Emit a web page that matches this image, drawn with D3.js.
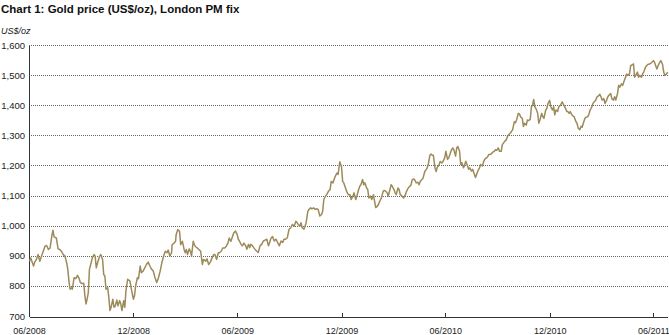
<!DOCTYPE html>
<html>
<head>
<meta charset="utf-8">
<script src="https://cdn.jsdelivr.net/npm/d3@7"></script>
<style>
  html, body { margin: 0; padding: 0; background: #fff; }
  svg { display: block; font-family: "Liberation Sans", Arial, Helvetica, sans-serif; }
</style>
</head>
<body>
<svg id="chart" width="669" height="335"></svg>
<script>
// London PM gold fix, US$/oz
const fixDates = [
  // 2008
  "2008-06-02","2008-06-04","2008-06-09","2008-06-11","2008-06-14","2008-06-17","2008-06-20","2008-06-23","2008-06-26","2008-06-29",
  "2008-07-02","2008-07-05","2008-07-08","2008-07-11","2008-07-13","2008-07-15","2008-07-19","2008-07-22","2008-07-25","2008-07-28","2008-07-31",
  "2008-08-03","2008-08-06","2008-08-08","2008-08-10","2008-08-12","2008-08-15","2008-08-16","2008-08-19","2008-08-22","2008-08-25","2008-08-28","2008-08-30",
  "2008-09-02","2008-09-05","2008-09-07","2008-09-09","2008-09-11","2008-09-13","2008-09-15","2008-09-18","2008-09-20","2008-09-23","2008-09-25","2008-09-27","2008-09-30",
  "2008-10-03","2008-10-05","2008-10-08","2008-10-10","2008-10-12","2008-10-14","2008-10-17","2008-10-19","2008-10-21","2008-10-23","2008-10-26","2008-10-28","2008-10-30",
  "2008-11-02","2008-11-04","2008-11-07","2008-11-09","2008-11-11","2008-11-14","2008-11-16","2008-11-18","2008-11-21","2008-11-25","2008-11-28",
  "2008-12-01","2008-12-03","2008-12-05","2008-12-08","2008-12-10","2008-12-13","2008-12-15","2008-12-18","2008-12-21","2008-12-24","2008-12-27","2008-12-30",
  // 2009
  "2009-01-02","2009-01-05","2009-01-08","2009-01-11","2009-01-14","2009-01-17","2009-01-20","2009-01-23","2009-01-26","2009-01-29","2009-01-31",
  "2009-02-03","2009-02-06","2009-02-07","2009-02-10","2009-02-13","2009-02-14","2009-02-17","2009-02-20","2009-02-22","2009-02-25","2009-02-28",
  "2009-03-02","2009-03-04","2009-03-06","2009-03-09","2009-03-11","2009-03-13","2009-03-16","2009-03-18","2009-03-20","2009-03-23","2009-03-26","2009-03-29",
  "2009-04-01","2009-04-03","2009-04-07","2009-04-09","2009-04-12","2009-04-15","2009-04-18","2009-04-21","2009-04-23","2009-04-26","2009-04-29",
  "2009-05-01","2009-05-04","2009-05-07","2009-05-10","2009-05-13","2009-05-16","2009-05-18","2009-05-21","2009-05-23","2009-05-26","2009-05-29",
  "2009-06-01","2009-06-03","2009-06-05","2009-06-08","2009-06-10","2009-06-13","2009-06-16","2009-06-18","2009-06-21","2009-06-23","2009-06-25","2009-06-28","2009-06-30",
  "2009-07-02","2009-07-05","2009-07-08","2009-07-11","2009-07-14","2009-07-17","2009-07-20","2009-07-23","2009-07-26","2009-07-28","2009-07-30",
  "2009-08-02","2009-08-05","2009-08-08","2009-08-11","2009-08-14","2009-08-17","2009-08-20","2009-08-22","2009-08-25","2009-08-28","2009-08-31",
  "2009-09-03","2009-09-06","2009-09-09","2009-09-12","2009-09-14","2009-09-16","2009-09-19","2009-09-21","2009-09-23","2009-09-26","2009-09-28","2009-09-30",
  "2009-10-03","2009-10-05","2009-10-08","2009-10-10","2009-10-13","2009-10-16","2009-10-19","2009-10-21","2009-10-24","2009-10-27","2009-10-29","2009-10-31",
  "2009-11-03","2009-11-05","2009-11-08","2009-11-11","2009-11-13","2009-11-16","2009-11-18","2009-11-20","2009-11-23","2009-11-25","2009-11-28",
  "2009-12-01","2009-12-03","2009-12-05","2009-12-08","2009-12-10","2009-12-13","2009-12-16","2009-12-18","2009-12-21","2009-12-23","2009-12-26","2009-12-28","2009-12-31",
  // 2010
  "2010-01-02","2010-01-04","2010-01-07","2010-01-09","2010-01-11","2010-01-14","2010-01-16","2010-01-18","2010-01-21","2010-01-23","2010-01-26","2010-01-28","2010-01-30",
  "2010-02-01","2010-02-04","2010-02-06","2010-02-09","2010-02-12","2010-02-14","2010-02-17","2010-02-19","2010-02-21","2010-02-24","2010-02-26","2010-02-28",
  "2010-03-03","2010-03-05","2010-03-07","2010-03-10","2010-03-12","2010-03-14","2010-03-17","2010-03-20","2010-03-23","2010-03-25","2010-03-28","2010-03-31",
  "2010-04-02","2010-04-04","2010-04-07","2010-04-09","2010-04-11","2010-04-14","2010-04-16","2010-04-18","2010-04-21","2010-04-23","2010-04-26","2010-04-28","2010-04-30",
  "2010-05-02","2010-05-05","2010-05-07","2010-05-09","2010-05-11","2010-05-14","2010-05-16","2010-05-18","2010-05-21","2010-05-23","2010-05-26","2010-05-28","2010-05-31",
  "2010-06-02","2010-06-05","2010-06-07","2010-06-09","2010-06-12","2010-06-14","2010-06-16","2010-06-19","2010-06-21","2010-06-23","2010-06-26","2010-06-28","2010-06-30",
  "2010-07-03","2010-07-05","2010-07-07","2010-07-10","2010-07-12","2010-07-14","2010-07-17","2010-07-19","2010-07-21","2010-07-24","2010-07-26","2010-07-28","2010-07-31",
  "2010-08-02","2010-08-05","2010-08-07","2010-08-09","2010-08-12","2010-08-14","2010-08-16","2010-08-19","2010-08-21","2010-08-23","2010-08-26","2010-08-28","2010-08-30",
  "2010-09-02","2010-09-04","2010-09-07","2010-09-09","2010-09-11","2010-09-13","2010-09-16","2010-09-18","2010-09-20","2010-09-23","2010-09-25","2010-09-27","2010-09-30",
  "2010-10-02","2010-10-04","2010-10-07","2010-10-09","2010-10-11","2010-10-14","2010-10-16","2010-10-18","2010-10-21","2010-10-23","2010-10-25","2010-10-28","2010-10-30",
  "2010-11-01","2010-11-03","2010-11-05","2010-11-07","2010-11-10","2010-11-12","2010-11-14","2010-11-17","2010-11-19","2010-11-21","2010-11-24","2010-11-26","2010-11-28",
  "2010-12-01","2010-12-03","2010-12-06","2010-12-08","2010-12-10","2010-12-12","2010-12-15","2010-12-17","2010-12-20","2010-12-23","2010-12-26","2010-12-29","2010-12-31",
  // 2011
  "2011-01-02","2011-01-04","2011-01-06","2011-01-09","2011-01-11","2011-01-13","2011-01-16","2011-01-18","2011-01-20","2011-01-23","2011-01-25","2011-01-27","2011-01-30",
  "2011-02-01","2011-02-03","2011-02-06","2011-02-08","2011-02-10","2011-02-13","2011-02-15","2011-02-17","2011-02-20","2011-02-22","2011-02-24","2011-02-27",
  "2011-03-01","2011-03-03","2011-03-06","2011-03-08","2011-03-11","2011-03-13","2011-03-15","2011-03-18","2011-03-20","2011-03-23","2011-03-25","2011-03-27","2011-03-30",
  "2011-04-01","2011-04-03","2011-04-06","2011-04-08","2011-04-10","2011-04-13","2011-04-15","2011-04-17","2011-04-20","2011-04-22","2011-04-25","2011-04-27","2011-04-29",
  "2011-05-01","2011-05-04","2011-05-06","2011-05-08","2011-05-11","2011-05-13","2011-05-15","2011-05-18","2011-05-20","2011-05-22","2011-05-25","2011-05-27","2011-05-29",
  "2011-06-01","2011-06-03","2011-06-05","2011-06-07","2011-06-10","2011-06-12","2011-06-14","2011-06-17","2011-06-19","2011-06-21","2011-06-24","2011-06-26"
];

const fixPrices = [
  // 2008
  882,893,866,879,888,904,882,899,915,932,
  934,921,926,965,985,963,959,923,921,915,904,
  899,877,855,816,789,794,789,827,824,835,824,811,
  808,809,767,740,757,778,855,877,893,904,899,860,882,
  899,904,888,838,833,789,794,761,718,729,756,729,732,
  753,734,751,740,718,751,729,784,822,816,784,
  756,767,800,827,824,866,844,849,860,871,879,866,
  // 2009
  855,849,827,811,827,849,877,899,915,910,919,
  899,910,937,941,948,970,987,981,937,948,921,
  910,921,904,923,915,899,948,937,930,926,921,915,
  871,888,882,890,871,879,893,904,904,888,910,
  910,915,926,926,932,943,959,948,959,976,982,
  971,955,949,938,933,942,933,922,938,927,938,933,927,
  922,916,911,933,938,949,952,955,933,944,957,
  964,949,955,944,933,949,944,955,955,960,988,
  993,1004,998,1015,1010,1004,998,1010,993,988,998,1010,
  1048,1054,1059,1056,1059,1054,1056,1054,1032,1037,1048,1087,
  1098,1103,1114,1120,1147,1142,1153,1164,1175,1170,1212,
  1196,1147,1142,1125,1114,1103,1103,1087,1098,1109,1087,1098,1120,
  // 2010
  1131,1136,1153,1136,1142,1125,1120,1092,1098,1087,1103,1081,1060,
  1063,1071,1081,1092,1114,1117,1114,1109,1098,1120,1136,1131,
  1120,1109,1103,1125,1120,1103,1098,1092,1103,1114,1125,1131,
  1136,1153,1155,1150,1142,1144,1136,1147,1153,1158,1180,1185,1191,
  1202,1234,1238,1234,1234,1191,1180,1194,1202,1213,1208,1213,1225,
  1247,1220,1225,1236,1252,1258,1252,1231,1258,1263,1247,1203,1209,
  1192,1203,1214,1198,1187,1192,1181,1187,1176,1160,1171,1181,1192,
  1203,1198,1211,1220,1225,1228,1236,1236,1239,1244,1247,1252,1250,
  1258,1247,1247,1269,1274,1280,1285,1296,1302,1307,1313,1318,1345,
  1342,1351,1373,1371,1362,1356,1329,1340,1334,1351,1349,1353,1395,
  1400,1419,1395,1389,1373,1340,1351,1373,1362,1356,1384,1389,1405,
  1416,1395,1384,1395,1368,1384,1379,1395,1400,1411,1400,1389,1379,
  // 2011
  1379,1373,1379,1368,1364,1362,1346,1340,1324,1319,1330,1327,1346,
  1357,1360,1362,1371,1384,1395,1406,1411,1417,1428,1430,1436,
  1428,1417,1422,1406,1417,1428,1433,1439,1422,1417,1428,1417,1439,
  1466,1460,1471,1466,1477,1493,1504,1499,1504,1531,1535,1537,1493,
  1499,1510,1493,1499,1493,1504,1510,1526,1531,1535,1537,1539,1542,
  1548,1542,1531,1520,1535,1542,1548,1535,1510,1499,1504,1510
];

const priceTicks = [700, 800, 900, 1000, 1100, 1200, 1300, 1400, 1500, 1600];
const monthTicks = ["2008-06-01", "2008-12-01", "2009-06-01", "2009-12-01", "2010-06-01", "2010-12-01", "2011-06-01"];
const monthTickLabels = ["06/2008", "12/2008", "06/2009", "12/2009", "06/2010", "12/2010", "06/2011"];

const chartTitle = "Chart 1: Gold price (US$/oz), London PM fix";
const unitLabel = "US$/oz";

// ---- layout ----
const plot = { left: 29, right: 667.7, top: 45, bottom: 316 };
const parseDate = d3.utcParse("%Y-%m-%d");
const series = fixDates.map((d, i) => ({ date: parseDate(d), price: fixPrices[i] }));

const x = d3.scaleUtc()
  .domain([parseDate("2008-06-01"), parseDate("2011-06-26")])
  .range([plot.left, plot.right]);
const y = d3.scaleLinear()
  .domain([700, 1600])
  .range([plot.bottom, plot.top]);

const svg = d3.select("#chart");

// title and unit
svg.append("text")
  .attr("x", 1).attr("y", 13)
  .attr("font-size", 11.5).attr("font-weight", "bold").attr("fill", "#111")
  .text(chartTitle);
svg.append("text")
  .attr("x", 1).attr("y", 34)
  .attr("font-size", 9).attr("font-style", "italic").attr("fill", "#222")
  .text(unitLabel);

// dotted horizontal gridlines
const grid = svg.append("g")
  .attr("transform", `translate(${plot.left},0)`)
  .call(d3.axisRight(y)
    .tickValues(priceTicks.filter(t => t > 700))
    .tickSize(plot.right - plot.left + 1)
    .tickFormat(""));
grid.select(".domain").remove();
grid.selectAll(".tick line")
  .attr("stroke", "#666")
  .attr("stroke-width", 1)
  .attr("stroke-dasharray", "1,1")
  .attr("shape-rendering", "crispEdges");

// y axis with labels
const yAxis = svg.append("g")
  .attr("transform", `translate(${plot.left},0)`)
  .call(d3.axisLeft(y)
    .tickValues(priceTicks)
    .tickSize(0)
    .tickPadding(4)
    .tickFormat(d3.format(",")));
yAxis.select(".domain").attr("stroke", "#333").attr("shape-rendering", "crispEdges");
yAxis.selectAll("text")
  .attr("font-size", 9.5)
  .attr("font-family", "'Liberation Sans', Arial, sans-serif")
  .attr("fill", "#222");

// x axis with small inward ticks
const xAxis = svg.append("g")
  .attr("transform", `translate(0,${plot.bottom + 0.5})`)
  .call(d3.axisBottom(x)
    .tickValues(monthTicks.map(parseDate))
    .tickSizeInner(-4)
    .tickSizeOuter(0)
    .tickPadding(11)
    .tickFormat((d, i) => monthTickLabels[i]));
xAxis.select(".domain").attr("stroke", "#333").attr("shape-rendering", "crispEdges");
xAxis.selectAll(".tick line").attr("stroke", "#333").attr("shape-rendering", "crispEdges");
xAxis.selectAll("text")
  .attr("font-size", 9)
  .attr("font-family", "'Liberation Sans', Arial, sans-serif")
  .attr("fill", "#222");

// price line
const line = d3.line()
  .x(d => x(d.date))
  .y(d => y(d.price));
svg.append("path")
  .datum(series)
  .attr("fill", "none")
  .attr("stroke", "#9c8a5a")
  .attr("stroke-width", 1.5)
  .attr("stroke-linejoin", "round")
  .attr("d", line);
</script>
</body>
</html>
